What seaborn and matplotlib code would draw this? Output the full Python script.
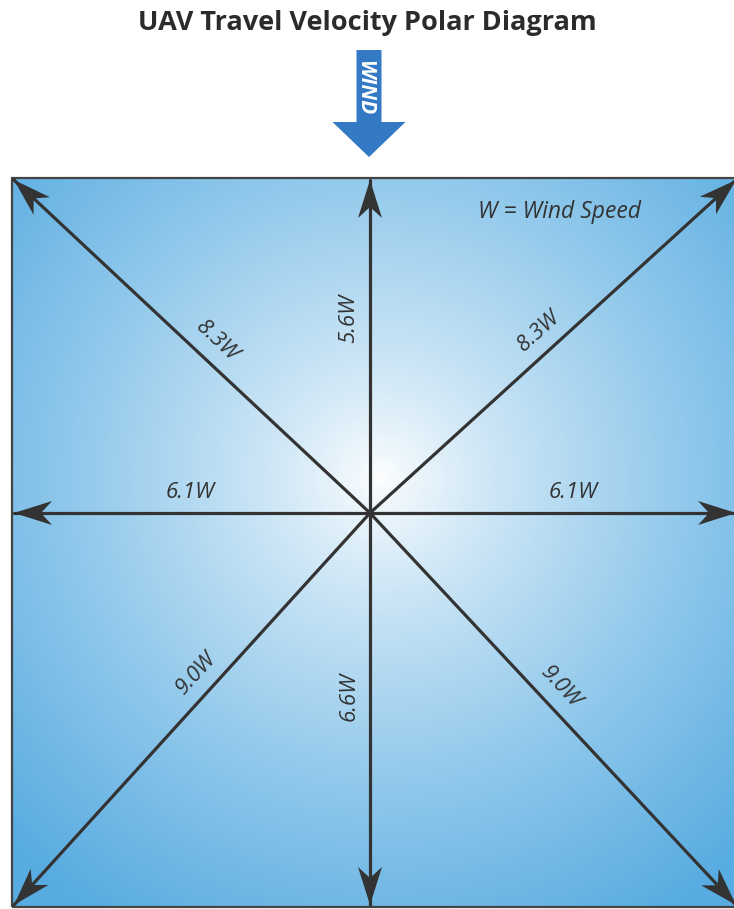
"""UAV travel velocity polar diagram: 8 heading arrows labelled with speed as a multiple of wind speed."""
import matplotlib.pyplot as plt
import numpy as np
import pandas as pd
import seaborn as sns
from matplotlib.patches import FancyArrow, Rectangle

# --- data ---
directions = ['N', 'NE', 'E', 'SE', 'S', 'SW', 'W', 'NW']
speed_factor = [5.6, 8.3, 6.1, 9.0, 6.6, 9.0, 6.1, 8.3]
speed_labels = [f'{v:.1f}W' for v in speed_factor]
compass_x = [0, 1, 1, 1, 0, -1, -1, -1]
compass_y = [1, 1, 0, -1, -1, -1, 0, 1]
title = 'UAV Travel Velocity Polar Diagram'
legend_text = 'W = Wind Speed'
wind_text = 'WIND'

# --- layout (figure pixels, y measured upward) ---
W_PX, H_PX = 734, 909
BOX_L, BOX_R, BOX_B, BOX_T = 12, 738, 2, 731
CX, CY = 370, 396
TIP_INSET = 2
label_frac = [0.585, 0.5, 0.555, 0.48, 0.467, 0.445, 0.506, 0.47]
LABEL_OFF = 21
INK = '#333333'
WIND_BLUE = '#3479c4'
EDGE_BLUE = np.array([0x58, 0xac, 0xe1]) / 255

sns.set_theme(style='white')
plt.rcParams['font.family'] = ['Open Sans', 'DejaVu Sans']

fig = plt.figure(figsize=(W_PX / 100, H_PX / 100), dpi=100)
ax = fig.add_axes([0, 0, 1, 1])
ax.set_xlim(0, W_PX)
ax.set_ylim(0, H_PX)
ax.set_aspect('equal')
ax.axis('off')

# radial gradient background in the box
gx = np.linspace(BOX_L, BOX_R, 400)
gy = np.linspace(BOX_B, BOX_T, 400)
GX, GY = np.meshgrid(gx, gy)
r = np.hypot(GX - (CX + 10), GY - (CY + 35))
t = np.clip(r / 520, 0, 1) ** 0.8
img = (1 - t)[..., None] * np.ones(3) + t[..., None] * EDGE_BLUE
ax.imshow(img, extent=(BOX_L, BOX_R, BOX_B, BOX_T), origin='lower', zorder=0, interpolation='bilinear')
ax.add_patch(Rectangle((BOX_L, BOX_B), BOX_R - BOX_L, BOX_T - BOX_B, fill=False,
                       edgecolor='#444444', lw=1.6, zorder=1))

# arrow tips sit on the box edges / corners
tips_x = [CX if dx == 0 else (BOX_R - TIP_INSET if dx > 0 else BOX_L + TIP_INSET) for dx in compass_x]
tips_y = [CY if dy == 0 else (BOX_T - TIP_INSET if dy > 0 else BOX_B + TIP_INSET) for dy in compass_y]

rows = []
for d, tx, ty in zip(directions, tips_x, tips_y):
    rows.append({'direction': d, 'x': CX, 'y': CY, 'order': 0})
    rows.append({'direction': d, 'x': tx, 'y': ty, 'order': 1})
shafts = pd.DataFrame(rows)
sns.lineplot(data=shafts, x='x', y='y', units='direction', estimator=None, sort=False,
             color=INK, lw=2.3, ax=ax, zorder=3, legend=False)

# barbed arrowheads
HEAD_LEN, HEAD_HALF, NOTCH = 38, 12, 27
for tx, ty in zip(tips_x, tips_y):
    v = np.array([tx - CX, ty - CY], dtype=float)
    u = v / np.linalg.norm(v)
    n = np.array([-u[1], u[0]])
    tip = np.array([tx, ty])
    back = tip - HEAD_LEN * u
    poly = np.array([tip, back + HEAD_HALF * n, tip - NOTCH * u, back - HEAD_HALF * n])
    ax.fill(poly[:, 0], poly[:, 1], color=INK, zorder=4, lw=0)

# speed labels, rotated along each arrow, on the "upper" side of the text
for lab, tx, ty, f in zip(speed_labels, tips_x, tips_y, label_frac):
    vx, vy = tx - CX, ty - CY
    ang = np.degrees(np.arctan2(vy, vx))
    if ang > 90:
        ang -= 180
    elif ang <= -90:
        ang += 180
    th = np.radians(ang)
    px = CX + f * vx - LABEL_OFF * np.sin(th)
    py = CY + f * vy + LABEL_OFF * np.cos(th)
    ax.text(px, py, lab, rotation=ang, rotation_mode='anchor', ha='center', va='center',
            fontsize=16, style='italic', color=INK, zorder=5)

ax.text(559, H_PX - 212, legend_text, fontsize=16.5, style='italic', color=INK,
        ha='center', va='center', zorder=5)

# wind indicator above the box
ax.add_patch(FancyArrow(369, H_PX - 50, 0, -107, width=25, head_width=73, head_length=35,
                        length_includes_head=True, color=WIND_BLUE, lw=0))
ax.text(365, H_PX - 88, wind_text, rotation=-90, rotation_mode='anchor', ha='center',
        va='center', color='white', fontsize=15, fontweight='bold', style='italic')

ax.text(W_PX / 2, H_PX - 23, title, ha='center', va='center', fontsize=19.5,
        fontweight='bold', color='#2b2b2b')

fig.savefig('out.png', dpi=100)
